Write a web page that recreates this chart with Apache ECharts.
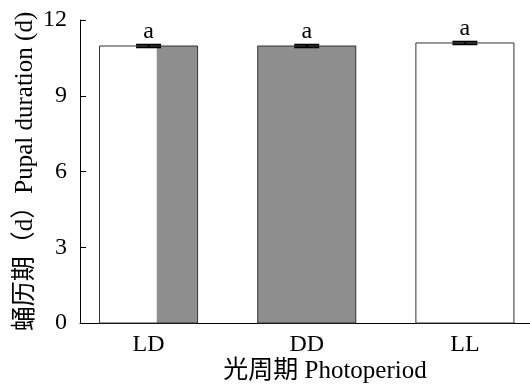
<!DOCTYPE html>
<html>
<head>
<meta charset="utf-8">
<script src="https://cdn.jsdelivr.net/npm/echarts@6/dist/echarts.min.js"></script>
<style>
  html, body { margin: 0; padding: 0; background: #fff; }
  #chart { width: 530px; height: 387px; }
</style>
</head>
<body>
<div id="chart"></div>
<script>
// Pupal duration under three photoperiod regimes
const categories = ['LD', 'DD', 'LL'];
const durations = [10.97, 10.97, 11.09];   // mean pupal duration, days
const stdErrors = [0.05, 0.05, 0.05];      // standard error, days
const lightHours = [14, 0, 24];            // hours of light per 24 h cycle
const letters = ['a', 'a', 'a'];           // significance groups
const yTicks = [0, 3, 6, 9, 12];

const FONT = '"Liberation Serif", "Times New Roman", "Noto Sans CJK SC", serif';
const DARK_FILL = '#8e8e8e';

const chart = echarts.init(document.getElementById('chart'), null, { renderer: 'canvas' });

const seriesData = categories.map((c, i) => [i + 1, durations[i], stdErrors[i], lightHours[i]]);

function renderBar(params, api) {
  const i = params.dataIndex;
  const x = api.value(0);
  const v = api.value(1);
  const e = api.value(2);
  const light = api.value(3);
  const base = api.coord([x, 0]);
  const top = api.coord([x, v]);
  const w = api.size([0.62, 0])[0];
  const left = base[0] - w / 2;
  const h = base[1] - top[1];
  const lightW = w * light / 24;
  const children = [];
  if (lightW > 0) {
    children.push({ type: 'rect', shape: { x: left, y: top[1], width: lightW, height: h },
      style: { fill: '#ffffff' } });
  }
  if (lightW < w) {
    children.push({ type: 'rect', shape: { x: left + lightW, y: top[1], width: w - lightW, height: h },
      style: { fill: DARK_FILL } });
  }
  children.push({ type: 'rect', shape: { x: left, y: top[1], width: w, height: h },
    style: { fill: 'none', stroke: '#333', lineWidth: 1 } });

  // error bar with caps
  const hi = api.coord([x, v + e])[1];
  const lo = api.coord([x, v - e])[1];
  const cap = 12.5;
  children.push({ type: 'line', shape: { x1: base[0], y1: hi, x2: base[0], y2: lo },
    style: { stroke: '#000', lineWidth: 2 } });
  children.push({ type: 'line', shape: { x1: base[0] - cap, y1: hi, x2: base[0] + cap, y2: hi },
    style: { stroke: '#000', lineWidth: 2 } });
  children.push({ type: 'line', shape: { x1: base[0] - cap, y1: lo, x2: base[0] + cap, y2: lo },
    style: { stroke: '#000', lineWidth: 2 } });

  // significance letter
  children.push({ type: 'text', style: {
    text: letters[i], x: base[0], y: hi - 1, align: 'center', verticalAlign: 'bottom',
    font: '24px ' + FONT, fill: '#000' } });

  return { type: 'group', children: children };
}

chart.setOption({
  animation: false,
  backgroundColor: '#fff',
  grid: { left: 80, right: 0, top: 20, bottom: 64, outerBoundsMode: 'none', containLabel: false },
  xAxis: {
    type: 'value',
    min: 0.5665,
    max: 3.4115,
    axisLine: { show: true, lineStyle: { color: '#000', width: 1 } },
    axisTick: { show: false },
    splitLine: { show: false },
    axisLabel: {
      customValues: [1, 2, 3],
      formatter: v => categories[Math.round(v) - 1],
      fontFamily: FONT, fontSize: 24, color: '#000', margin: 10
    },
    name: '光周期 Photoperiod',
    nameLocation: 'middle',
    nameGap: 36,
    nameMoveOverlap: false,
    nameTextStyle: { fontFamily: FONT, fontSize: 25, color: '#000', padding: [0, 0, 0, 40] }
  },
  yAxis: {
    type: 'value',
    min: yTicks[0],
    max: yTicks[yTicks.length - 1],
    interval: 3,
    axisLine: { show: true, lineStyle: { color: '#000', width: 1 } },
    axisTick: { show: true, inside: true, length: 6, lineStyle: { color: '#000' } },
    splitLine: { show: false },
    axisLabel: { fontFamily: FONT, fontSize: 24, color: '#000', margin: 13 },
    name: '蛹历期（d）Pupal duration (d)',
    nameLocation: 'middle',
    nameRotate: 90,
    nameGap: 42,
    nameMoveOverlap: false,
    nameTextStyle: { fontFamily: FONT, fontSize: 25, color: '#000' }
  },
  series: [{
    type: 'custom',
    renderItem: renderBar,
    data: seriesData,
    clip: false
  }]
});
</script>
</body>
</html>
